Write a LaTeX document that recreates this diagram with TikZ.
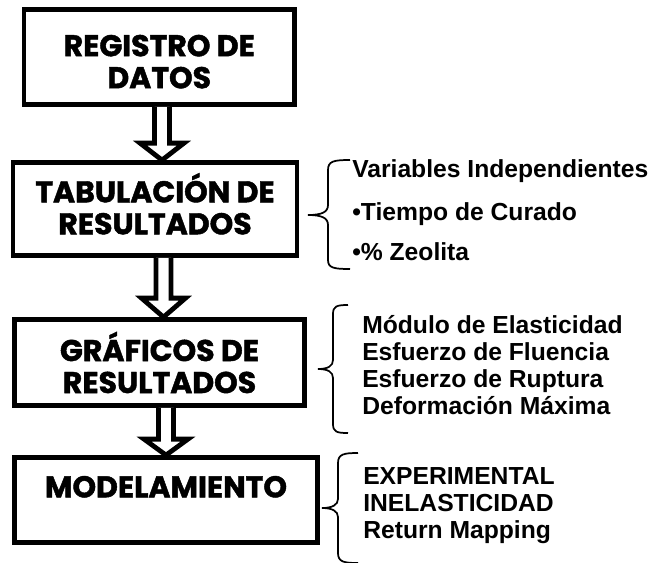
\documentclass[tikz,border=0pt]{standalone}
\usepackage{fontspec}
\setmainfont{Liberation Sans}
\newfontfamily\cajafont{Poppins}[BoldFeatures={FakeBold=1.5}]
\usetikzlibrary{calc, positioning}

\begin{document}
\begin{tikzpicture}[x=0.75pt, y=-0.75pt,
  caja/.style={draw, line width=3.6pt, align=center, inner sep=0pt,
    font=\cajafont\bfseries\fontsize{22.5}{24}\selectfont},
  flecha/.style={draw, line width=3.6pt, fill=white, line join=miter, miter limit=10},
  texto/.style={anchor=base west, inner sep=0pt, font=\bfseries\fontsize{18.5}{22}\selectfont},
  llave/.style={line width=1.3pt}]
  \useasboundingbox (0,0) rectangle (658,562);
  % cajas
  \node (reg) at (159.25,57) [caja, minimum width=202.9pt, minimum height=71.25pt] {\rule{0pt}{23pt}REGISTRO DE\\DATOS};
  \node (tab) at (155,209) [caja, minimum width=213pt, minimum height=69.75pt] {TABULACIÓN DE\\RESULTADOS\rule[-8pt]{0pt}{0pt}};
  \node (graf) at (159.5,362.5) [caja, minimum width=217.5pt, minimum height=64.5pt] {GRÁFICOS DE\\RESULTADOS};
  \node (mod) at (166,500) [caja, minimum width=227.6pt, minimum height=63.75pt, text height=15pt, text depth=19pt] {MODELAMIENTO};
  % flechas
  \draw [flecha] ($(reg.south)+(-4.75,0)$) -- ($(tab.north)+(-0.5,-17)$) -- ($(tab.north)+(-15,-17)$) -- ($(tab.north)+(7,0)$) -- ($(tab.north)+(29,-17)$) -- ($(tab.north)+(14.5,-17)$) -- ($(reg.south)+(10.25,0)$);
  \draw [flecha] ($(tab.south)+(1,0)$) -- ($(graf.north)+(-3.5,-19)$) -- ($(graf.north)+(-18,-19)$) -- ($(graf.north)+(4,0)$) -- ($(graf.north)+(26,-19)$) -- ($(graf.north)+(11.5,-19)$) -- ($(tab.south)+(16,0)$);
  \draw [flecha] ($(graf.south)+(-1,0)$) -- ($(mod.north)+(-7.5,-16)$) -- ($(mod.north)+(-22,-16)$) -- (mod.north) -- ($(mod.north)+(22,-16)$) -- ($(mod.north)+(7.5,-16)$) -- ($(graf.south)+(14,0)$);
  % llaves
  \draw [llave] (350,160) .. controls (334,160) and (328,161) .. (328,170) -- (328,205) .. controls (328,212) and (322,215) .. (308,215) .. controls (322,215) and (328,218) .. (328,225) -- (328,260) .. controls (328,268) and (334,269) .. (350,269);
  \draw [llave] (348,305) .. controls (337,305) and (333,306) .. (333,314) -- (333,360) .. controls (333,366) and (328,369) .. (318,369) .. controls (328,369) and (333,372) .. (333,378) -- (333,424) .. controls (333,432) and (337,433) .. (348,433);
  \draw [llave] (358,453) .. controls (344,453) and (338,454) .. (338,463) -- (338,499) .. controls (338,505) and (332,508) .. (322,508) .. controls (332,508) and (338,511) .. (338,517) -- (338,553) .. controls (338,562) and (344,563) .. (358,563);
  % textos
  \node (indep) at (352,177.5) [texto] {Variables Independientes};
  \node (tiempo) at (352,220.5) [texto] {•Tiempo de Curado};
  \node (zeol) at (352,260.5) [texto] {•\% Zeolita};
  \node (modulo) at (362,333) [texto] {Módulo de Elasticidad};
  \node (fluen) at (362,360) [texto] {Esfuerzo de Fluencia};
  \node (rupt) at (362,387) [texto] {Esfuerzo de Ruptura};
  \node (deform) at (362,414) [texto] {Deformación Máxima};
  \node (exper) at (363,484) [texto] {EXPERIMENTAL};
  \node (inelas) at (363,511) [texto] {INELASTICIDAD};
  \node (retmap) at (363,538) [texto] {Return Mapping};
\end{tikzpicture}
\end{document}
